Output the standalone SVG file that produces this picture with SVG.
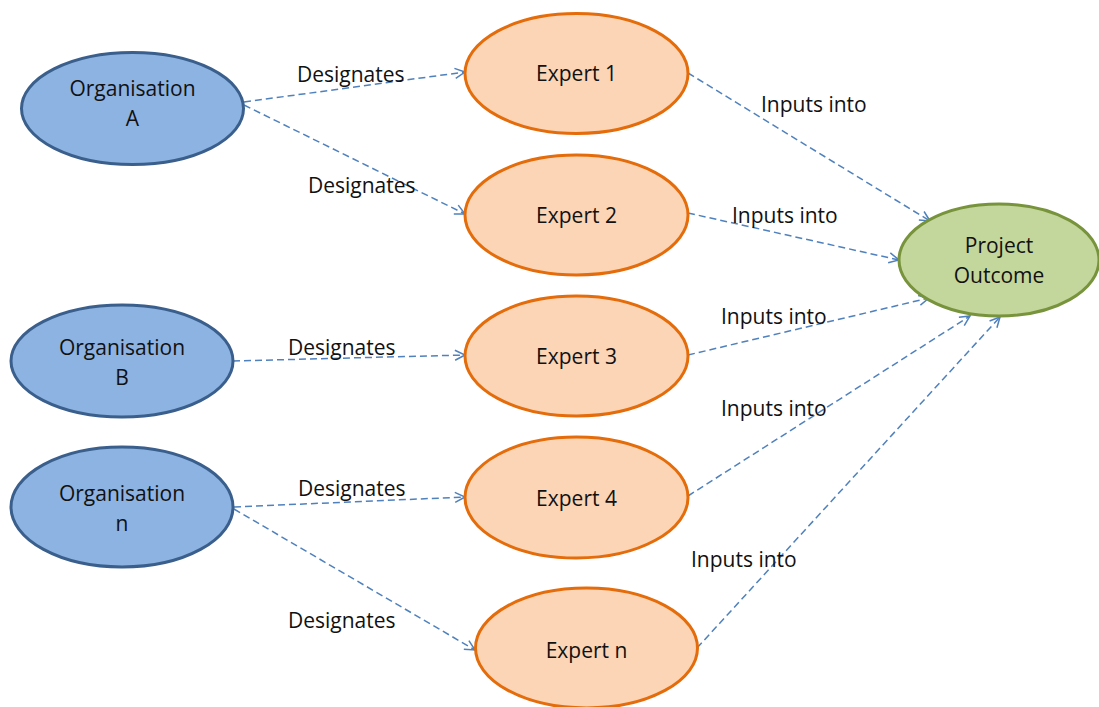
<svg xmlns="http://www.w3.org/2000/svg" width="1099" height="707" viewBox="0 0 1099 707">
<defs>
<style>
.org{fill:#8db3e2;stroke:#3a5f8c;stroke-width:3}
.exp{fill:#fbd5b5;stroke:#e46c0a;stroke-width:3}
.out{fill:#c3d69b;stroke:#77933c;stroke-width:3}
.t{font-family:"Open Sans","Liberation Sans",sans-serif;font-size:21px;fill:#111;text-anchor:middle}
.lbl{font-family:"Open Sans","Liberation Sans",sans-serif;font-size:21px;fill:#111}
.c{fill:none;stroke:#4f81bd;stroke-width:1.5;stroke-dasharray:7 4}
</style>
<marker id="ah" markerUnits="userSpaceOnUse" markerWidth="14" markerHeight="14" refX="12" refY="7" orient="auto" viewBox="0 0 14 14">
<path d="M2,2 L12,7 L2,12" fill="none" stroke="#4f81bd" stroke-width="1.5"/>
</marker>
</defs>
<rect width="1099" height="707" fill="#fff"/>
<g id="connectors">
<line class="c" x1="244" y1="102" x2="465" y2="72" marker-end="url(#ah)"/>
<line class="c" x1="244" y1="105" x2="465" y2="214" marker-end="url(#ah)"/>
<line class="c" x1="233" y1="361" x2="465" y2="355" marker-end="url(#ah)"/>
<line class="c" x1="234" y1="507" x2="465" y2="497" marker-end="url(#ah)"/>
<line class="c" x1="234" y1="509" x2="475" y2="650" marker-end="url(#ah)"/>
<line class="c" x1="688" y1="73" x2="930" y2="221" marker-end="url(#ah)"/>
<line class="c" x1="688" y1="213" x2="899" y2="260" marker-end="url(#ah)"/>
<line class="c" x1="688" y1="355" x2="929" y2="298" marker-end="url(#ah)"/>
<line class="c" x1="688" y1="496" x2="970" y2="316" marker-end="url(#ah)"/>
<line class="c" x1="697" y1="648" x2="1000" y2="317" marker-end="url(#ah)"/>
<text class="lbl" x="297" y="82">Designates</text>
<text class="lbl" x="308" y="193">Designates</text>
<text class="lbl" x="288" y="355">Designates</text>
<text class="lbl" x="298" y="496">Designates</text>
<text class="lbl" x="288" y="628">Designates</text>
<text class="lbl" x="761" y="112">Inputs into</text>
<text class="lbl" x="732" y="223">Inputs into</text>
<text class="lbl" x="721" y="324">Inputs into</text>
<text class="lbl" x="721" y="416">Inputs into</text>
<text class="lbl" x="691" y="567">Inputs into</text>
</g>
<g id="orgA"><ellipse class="org" cx="132.5" cy="108.5" rx="111" ry="56"/><text class="t" x="132.5" y="96">Organisation</text><text class="t" x="132.5" y="126">A</text></g>
<g id="orgB"><ellipse class="org" cx="122" cy="361" rx="111" ry="56"/><text class="t" x="122" y="355">Organisation</text><text class="t" x="122" y="385">B</text></g>
<g id="orgN"><ellipse class="org" cx="122" cy="507" rx="111" ry="60"/><text class="t" x="122" y="501">Organisation</text><text class="t" x="122" y="531">n</text></g>
<g id="expert1"><ellipse class="exp" cx="576.5" cy="73.5" rx="111.5" ry="60"/><text class="t" x="576.5" y="81">Expert 1</text></g>
<g id="expert2"><ellipse class="exp" cx="576.5" cy="215" rx="111.5" ry="60"/><text class="t" x="576.5" y="223">Expert 2</text></g>
<g id="expert3"><ellipse class="exp" cx="576.5" cy="356" rx="111.5" ry="60"/><text class="t" x="576.5" y="364">Expert 3</text></g>
<g id="expert4"><ellipse class="exp" cx="576.5" cy="497.5" rx="111.5" ry="60.5"/><text class="t" x="576.5" y="506">Expert 4</text></g>
<g id="expertN"><ellipse class="exp" cx="586.5" cy="648" rx="111" ry="60"/><text class="t" x="586.5" y="658">Expert n</text></g>
<g id="outcome"><ellipse class="out" cx="999" cy="260" rx="100" ry="56"/><text class="t" x="999" y="253">Project</text><text class="t" x="999" y="283">Outcome</text></g>
</svg>
